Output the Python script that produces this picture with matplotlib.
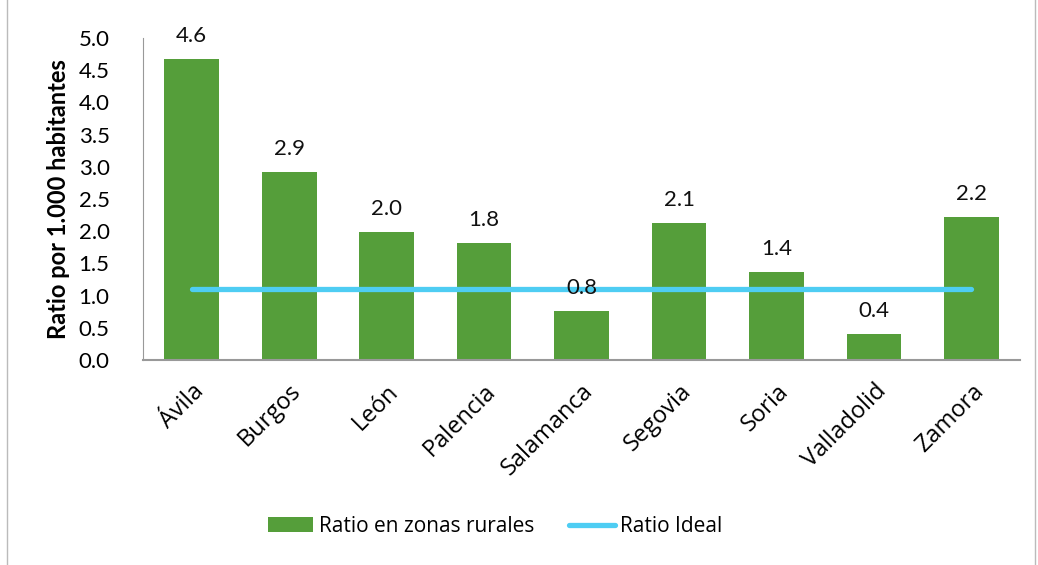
import numpy as np
import matplotlib.pyplot as plt
from matplotlib.patches import Rectangle

provincias = ["Ávila", "Burgos", "León", "Palencia", "Salamanca",
              "Segovia", "Soria", "Valladolid", "Zamora"]
ratio_rural = [4.67, 2.92, 1.99, 1.82, 0.76, 2.13, 1.37, 0.40, 2.22]
etiquetas = ["4.6", "2.9", "2.0", "1.8", "0.8", "2.1", "1.4", "0.4", "2.2"]
ratio_ideal = [1.10] * len(provincias)

verde = "#559E3A"
azul = "#4ECDF3"

plt.rcParams["font.family"] = ["Lato", "DejaVu Sans"]

fig = plt.figure(figsize=(10.38, 5.65), dpi=100)
ax = fig.add_axes([0.1378, 0.3628, 0.845, 0.570])

x = np.arange(len(provincias))
barras = ax.bar(x, ratio_rural, width=0.56, color=verde, label="Ratio en zonas rurales", zorder=2)
linea, = ax.plot(x, ratio_ideal, color=azul, lw=3.8, solid_capstyle="round",
                 label="Ratio Ideal", zorder=3)

for xi, v, t in zip(x, ratio_rural, etiquetas):
    ax.text(xi, v + 0.2, t, ha="center", va="bottom", fontsize=16, color="#111111")

ax.set_xlim(-0.5, 8.5)
ax.set_ylim(0, 5.0)
ax.set_yticks(np.arange(0, 5.01, 0.5))
ax.set_yticklabels([f"{v:.1f}" for v in np.arange(0, 5.01, 0.5)], fontsize=16)
ax.tick_params(axis="y", length=0, pad=24)
ax.set_xticks(x)
ax.set_xticklabels(provincias, rotation=45, ha="right", rotation_mode="anchor",
                   fontsize=17, family=["Open Sans", "DejaVu Sans"])
ax.tick_params(axis="x", length=0, pad=14)

for s in ["top", "right"]:
    ax.spines[s].set_visible(False)
ax.spines["left"].set_color("#999999")
ax.spines["bottom"].set_color("#999999")
ax.spines["bottom"].set_linewidth(1.5)

ax.set_ylabel("Ratio por 1.000 habitantes", fontsize=17, fontweight="bold", labelpad=6)

fig.legend([barras, linea], ["Ratio en zonas rurales", "Ratio Ideal"],
           loc="center", bbox_to_anchor=(0.477, 0.068), ncol=2, frameon=False,
           handlelength=2.2, handletextpad=0.25, columnspacing=1.7,
           prop={"family": ["Open Sans", "DejaVu Sans"], "size": 15})

fig.patches.append(Rectangle((0.007, -0.01), 0.99, 1.05, transform=fig.transFigure,
                             fill=False, edgecolor="#bbbbbb", lw=1))

fig.savefig("out.png", dpi=100)
